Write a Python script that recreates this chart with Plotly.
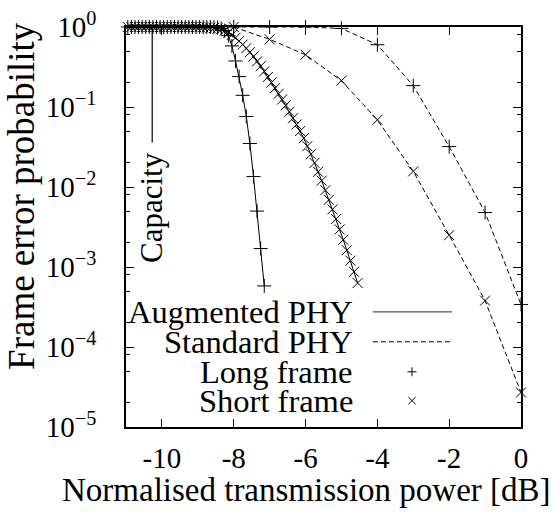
import plotly.graph_objects as go

# ---------------- data ----------------
aug_long_db = [-10.95, -10.85, -10.75, -10.65, -10.55, -10.45, -10.35, -10.25, -10.15, -10.05,
               -9.95, -9.85, -9.75, -9.65, -9.55, -9.45, -9.35, -9.25, -9.15, -9.05,
               -8.95, -8.85, -8.75, -8.65, -8.55, -8.45, -8.35, -8.25, -8.15, -8.05,
               -7.95, -7.85, -7.75, -7.65, -7.55, -7.45, -7.35, -7.25, -7.15]
aug_long_fer = [1.0, 1.0, 1.0, 1.0, 1.0, 1.0, 1.0, 1.0, 1.0, 1.0,
                1.0, 1.0, 1.0, 1.0, 1.0, 1.0, 1.0, 1.0, 1.0, 1.0,
                1.0, 1.0, 1.0, 1.0, 0.995, 0.985, 0.96, 0.90, 0.78, 0.58,
                0.376, 0.24, 0.14, 0.076, 0.035, 0.0135, 0.005, 0.0017, 0.00058]

aug_short_db = [-10.95, -10.85, -10.75, -10.65, -10.55, -10.45, -10.35, -10.25, -10.15, -10.05,
                -9.95, -9.85, -9.75, -9.65, -9.55, -9.45, -9.35, -9.25, -9.15, -9.05,
                -8.95, -8.85, -8.75, -8.65, -8.55, -8.45, -8.35, -8.25, -8.15, -8.05,
                -7.95, -7.85, -7.75, -7.65, -7.55, -7.45, -7.35, -7.25, -7.15, -7.05,
                -6.95, -6.85, -6.75, -6.65, -6.55, -6.45, -6.35, -6.25, -6.15, -6.05,
                -5.95, -5.85, -5.75, -5.65, -5.55, -5.45, -5.35, -5.25, -5.15, -5.05,
                -4.95, -4.85, -4.75, -4.65, -4.55]
aug_short_fer = [1.0, 1.0, 1.0, 1.0, 1.0, 1.0, 1.0, 1.0, 1.0, 1.0,
                 1.0, 1.0, 1.0, 1.0, 1.0, 1.0, 1.0, 1.0, 1.0, 1.0,
                 0.996, 0.993, 0.988, 0.980, 0.970, 0.958, 0.940, 0.902, 0.851, 0.798,
                 0.733, 0.668, 0.603, 0.543, 0.484, 0.427, 0.372, 0.324, 0.279, 0.237,
                 0.202, 0.172, 0.146, 0.124, 0.105, 0.0871, 0.0724, 0.0603, 0.0501, 0.0407,
                 0.0324, 0.0257, 0.0200, 0.0155, 0.0120, 0.00912, 0.00692, 0.00525, 0.00398, 0.00295,
                 0.00219, 0.00162, 0.00120, 0.000871, 0.000631]

std_db = [-8, -7, -6, -5, -4, -3, -2, -1, 0]
std_long_fer = [1.0, 1.0, 1.0, 0.96, 0.60, 0.185, 0.032, 0.0048, 0.00034]
std_short_fer = [1.0, 0.70, 0.45, 0.213, 0.069, 0.0157, 0.0025, 0.00038, 0.000027]

capacity_db = [-10.27, -10.27]
capacity_fer = [1.0, 0.036]

x_tick_vals = [-10, -8, -6, -4, -2, 0]
x_tick_text = ["-10", "-8", "-6", "-4", "-2", "0"]
y_tick_vals = [1, 1e-1, 1e-2, 1e-3, 1e-4, 1e-5]
y_tick_text = ["10<sup>0</sup>", "10<sup>\u22121</sup>", "10<sup>\u22122</sup>",
               "10<sup>\u22123</sup>", "10<sup>\u22124</sup>", "10<sup>\u22125</sup>"]
y_minor_vals = [8e-1, 5e-1, 2e-1, 8e-2, 5e-2, 2e-2, 8e-3, 5e-3, 2e-3,
                8e-4, 5e-4, 2e-4, 8e-5, 5e-5, 2e-5]

legend_labels = ["Augmented PHY", "Standard PHY", "Long frame", "Short frame"]

FONT = "Liberation Serif"
INK = "black"

fig = go.Figure()

def add_series(x, y, dash, symbol):
    fig.add_trace(go.Scatter(
        x=x, y=y, mode="lines+markers", showlegend=False, cliponaxis=False,
        line=dict(color=INK, width=1, dash=dash),
        marker=dict(symbol=symbol, size=10, color=INK, line=dict(color=INK, width=1)),
    ))

add_series(aug_long_db, aug_long_fer, "solid", "cross-thin")
add_series(aug_short_db, aug_short_fer, "solid", "x-thin")
add_series(std_db, std_long_fer, "5px,3px", "cross-thin")
add_series(std_db, std_short_fer, "5px,3px", "x-thin")

fig.add_trace(go.Scatter(x=capacity_db, y=capacity_fer, mode="lines", showlegend=False,
                         line=dict(color=INK, width=1.2)))

annotations = [
    dict(text="Capacity", x=capacity_db[0], y=-2.26, xref="x", yref="y",
         textangle=-90, showarrow=False, xanchor="center", yanchor="middle",
         font=dict(family=FONT, size=31, color=INK)),
    dict(text="Frame error probability", x=-0.263, y=0.578, xref="paper", yref="paper",
         textangle=-90, showarrow=False, xanchor="center", yanchor="middle",
         font=dict(family=FONT, size=37, color=INK)),
    dict(text="Normalised transmission power [dB]", x=0.458, y=-0.158, xref="paper", yref="paper",
         showarrow=False, xanchor="center", yanchor="middle",
         font=dict(family=FONT, size=33, color=INK)),
]

shapes = []
row_y = [0.288, 0.213, 0.138, 0.066]
for lab, ry in zip(legend_labels, row_y):
    annotations.append(dict(text=lab, x=0.58, y=ry, xref="paper", yref="paper",
                            showarrow=False, xanchor="right", yanchor="middle",
                            font=dict(family=FONT, size=32.5, color=INK)))
# legend samples
shapes.append(dict(type="line", xref="paper", yref="paper", x0=0.625, x1=0.825,
                   y0=row_y[0], y1=row_y[0], line=dict(color="#555", width=1.2)))
shapes.append(dict(type="line", xref="paper", yref="paper", x0=0.625, x1=0.825,
                   y0=row_y[1], y1=row_y[1], line=dict(color=INK, width=1, dash="5px,3px")))
mx, hw, hh = 0.724, 0.0114, 0.0112
shapes.append(dict(type="line", xref="paper", yref="paper", x0=mx - hw, x1=mx + hw,
                   y0=row_y[2], y1=row_y[2], line=dict(color=INK, width=1)))
shapes.append(dict(type="line", xref="paper", yref="paper", x0=mx, x1=mx,
                   y0=row_y[2] - hh, y1=row_y[2] + hh, line=dict(color=INK, width=1)))
shapes.append(dict(type="line", xref="paper", yref="paper", x0=mx - hw * 0.8, x1=mx + hw * 0.8,
                   y0=row_y[3] - hh * 0.8, y1=row_y[3] + hh * 0.8, line=dict(color=INK, width=1)))
shapes.append(dict(type="line", xref="paper", yref="paper", x0=mx - hw * 0.8, x1=mx + hw * 0.8,
                   y0=row_y[3] + hh * 0.8, y1=row_y[3] - hh * 0.8, line=dict(color=INK, width=1)))

fig.update_layout(
    width=553, height=515, autosize=False,
    margin=dict(l=126, r=32, t=27, b=88),
    paper_bgcolor="white", plot_bgcolor="white",
    font=dict(family=FONT, color=INK),
    annotations=annotations, shapes=shapes,
    showlegend=False,
)
fig.update_xaxes(
    range=[-11, 0], tickvals=x_tick_vals, ticktext=x_tick_text, automargin=False,
    ticks="inside", ticklen=8, tickwidth=1.2, tickcolor=INK,
    showline=True, linecolor=INK, linewidth=1.5, mirror="allticks",
    showgrid=False, zeroline=False, ticklabelstandoff=4,
    tickfont=dict(family=FONT, size=29, color=INK),
)
fig.update_yaxes(
    type="log", range=[-5, 0], tickvals=y_tick_vals, ticktext=y_tick_text, automargin=False,
    ticks="inside", ticklen=8, tickwidth=1.2, tickcolor=INK,
    showline=True, linecolor=INK, linewidth=1.5, mirror="allticks",
    showgrid=False, zeroline=False, ticklabelstandoff=22,
    tickfont=dict(family=FONT, size=29, color=INK),
    minor=dict(tickmode="array", tickvals=y_minor_vals, ticks="inside", ticklen=4,
               tickwidth=1.2, tickcolor=INK, showgrid=False),
)

fig.write_html("out.html", config={"displayModeBar": False},
               post_script="document.body.style.margin='0';document.body.style.overflow='hidden';")
